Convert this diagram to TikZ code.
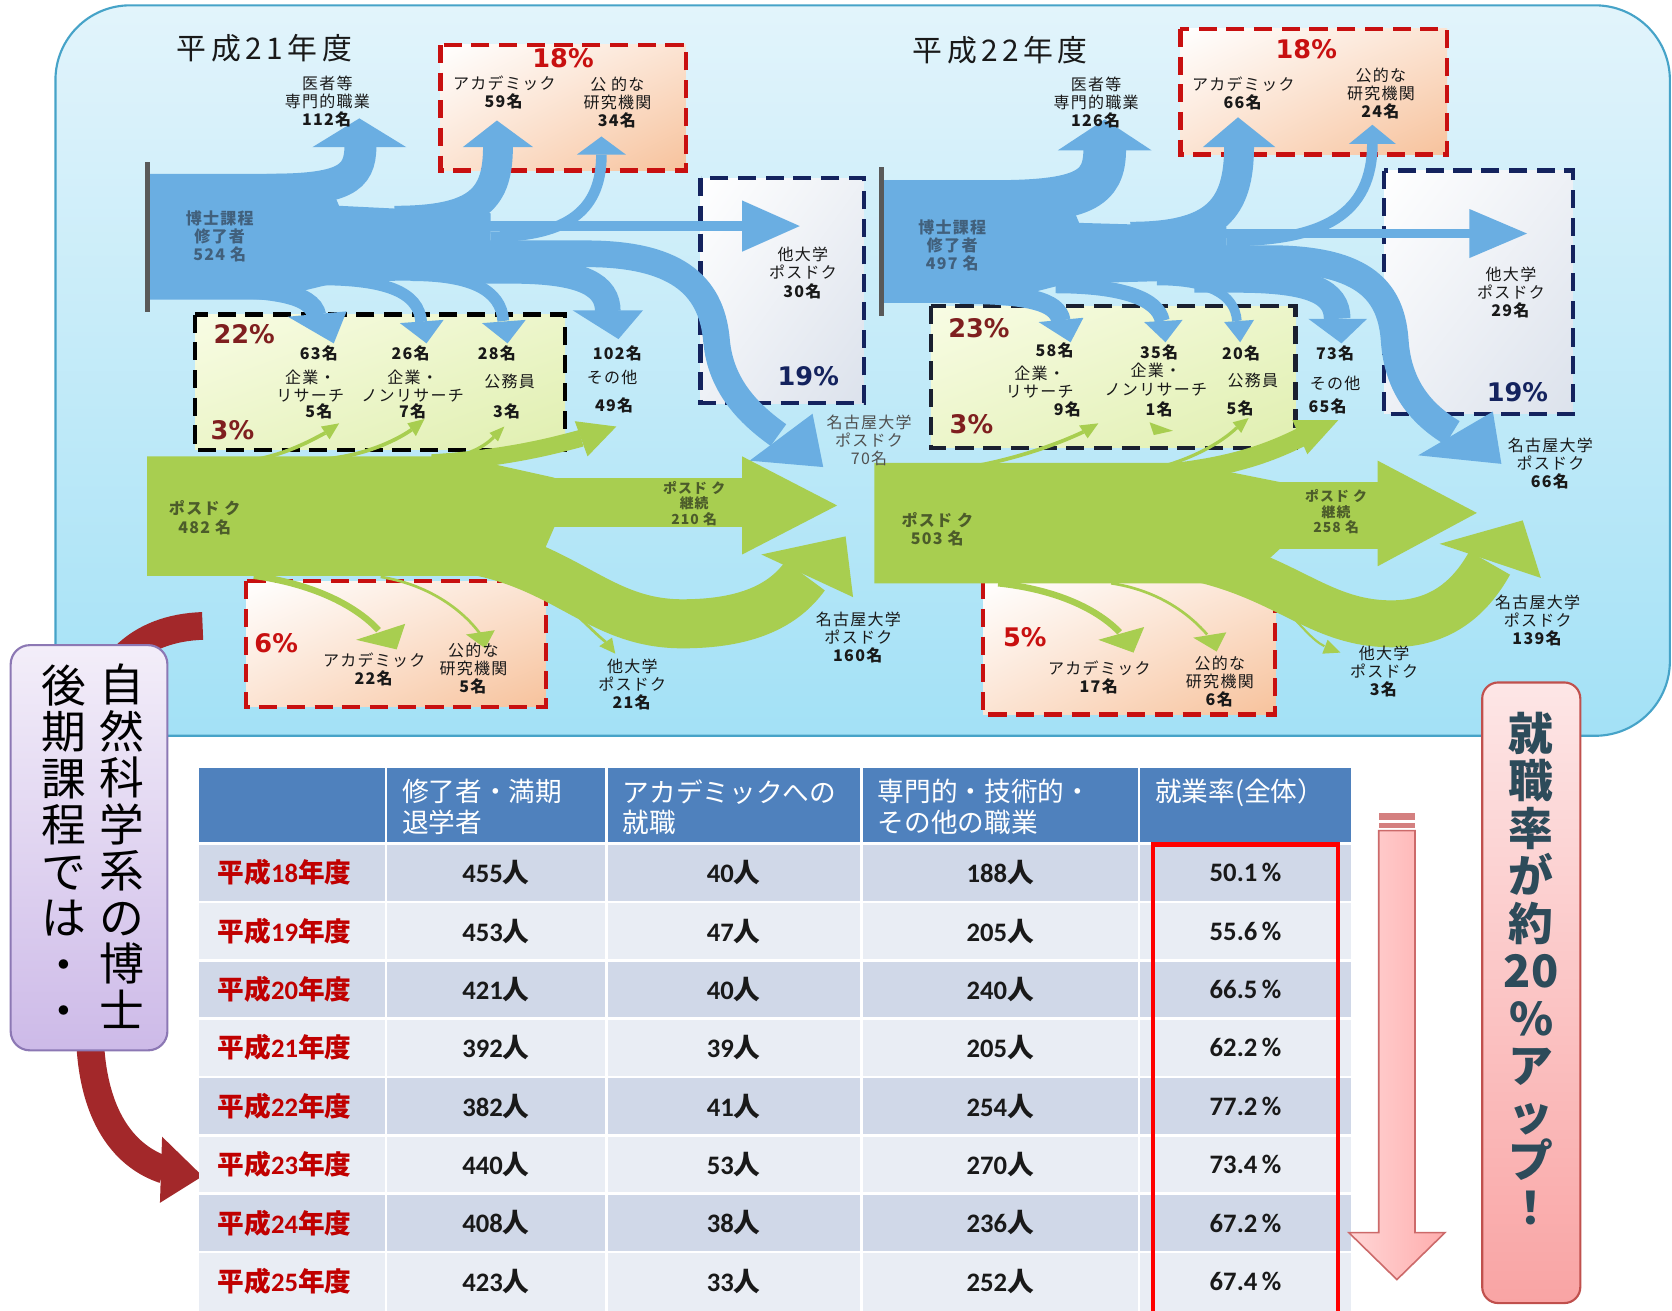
\documentclass[tikz,border=0pt]{standalone}
\usepackage{fontspec}
\setmainfont{Noto Sans CJK JP}
\newfontfamily\jpl[LetterSpace=8]{Noto Sans CJK JP}
\newfontfamily\jpt[LetterSpace=15]{Noto Sans CJK JP}
\newfontfamily\dv{DejaVu Sans}
\newfontfamily\cb{Carlito}
\usetikzlibrary{shadings}
\definecolor{fb}{HTML}{6AAEE2}
\definecolor{fg}{HTML}{A8CE50}
\definecolor{pnltop}{HTML}{E2F4FB}
\definecolor{pnlbot}{HTML}{A3E1F6}
\definecolor{pnlbd}{HTML}{46A3C8}
\definecolor{peach}{HTML}{F7C29C}
\definecolor{dred}{HTML}{C81010}
\definecolor{bred}{HTML}{7F1F1F}
\definecolor{navy}{HTML}{14235E}
\definecolor{knavy}{HTML}{1A2030}
\definecolor{gyl}{HTML}{F8FCE4}
\definecolor{gyd}{HTML}{E0EFB0}
\definecolor{bgd}{HTML}{DCE2EC}
\definecolor{hdr}{HTML}{4F81BD}
\definecolor{rowa}{HTML}{D0D8E8}
\definecolor{rowb}{HTML}{E9EDF4}
\definecolor{txtblue}{HTML}{41607C}
\definecolor{txtgreen}{HTML}{4C5C2A}
\definecolor{txtgray}{HTML}{505050}
\definecolor{arrred}{HTML}{A3282A}
\definecolor{vtext}{HTML}{2D4B5A}
\definecolor{pptop}{HTML}{F3EEF9}
\definecolor{ppbot}{HTML}{CDBAE8}
\definecolor{ppbd}{HTML}{8C78B4}
\definecolor{pktop}{HTML}{FDE6E6}
\definecolor{pkbot}{HTML}{F9A4A4}
\definecolor{pkbd}{HTML}{C0504D}
\definecolor{arl}{HTML}{FFD6D6}
\definecolor{ard}{HTML}{FFADAD}
\definecolor{arbd}{HTML}{CC6A6A}
\definecolor{tred}{HTML}{C00000}
\tikzset{
  lb/.style={align=center, inner sep=0pt, text=black!90, font=\jpl\fontsize{15}{17}\selectfont},
  lbb/.style={inner sep=0pt, text=black!90, font=\jpl\bfseries\fontsize{15}{17}\selectfont},
  lbt/.style={align=center, inner sep=0pt, text=txtblue, font=\jpl\bfseries\fontsize{15}{17}\selectfont},
  lbg/.style={align=center, inner sep=0pt, text=txtgreen, font=\jpl\bfseries\fontsize{15}{17}\selectfont},
  lbgs/.style={align=center, inner sep=0pt, text=txtgreen, font=\jpl\bfseries\fontsize{13}{14.5}\selectfont},
  ttl/.style={inner sep=0pt, text=black!90, font=\jpt\fontsize{28}{28}\selectfont},
  pc/.style={inner sep=0pt, font=\dv\bfseries\fontsize{24}{24}\selectfont},
  rbox/.style={draw=dred, line width=4pt, dash pattern=on 17pt off 9pt, upper left=white, lower right=peach, upper right=peach!45!white, lower left=peach!45!white},
  kbox/.style={draw=black, line width=4pt, dash pattern=on 17pt off 9pt, upper left=gyl, lower right=gyd, upper right=gyl!50!gyd, lower left=gyl!50!gyd},
  nbox/.style={draw=navy, line width=4pt, dash pattern=on 17pt off 9pt, upper left=white, lower right=bgd, upper right=white!50!bgd, lower left=white!50!bgd},
  hdtxt/.style={text=white, anchor=west, align=left, inner sep=0pt, font=\fontsize{25}{29}\selectfont},
  rlab/.style={text=tred, inner sep=0pt, font=\bfseries\fontsize{25}{25}\selectfont},
  val/.style={text=black!90, inner sep=0pt, font=\bfseries\fontsize{25}{25}\selectfont},
  vt/.style={align=center, inner sep=0pt, text=black, font=\fontsize{42}{43.6}\selectfont},
  vp/.style={align=center, inner sep=0pt, text=vtext, font=\bfseries\fontsize{42}{44.5}\selectfont},
}
\begin{document}
\begin{tikzpicture}[x=1pt,y=-1pt]
\useasboundingbox (0,0) rectangle (1568,1229);
\fill[white] (0,0) rectangle (1568,1229);
% panel
\draw[draw=pnlbd, line width=2pt, top color=pnltop, bottom color=pnlbot, rounded corners=70pt] (52,5) rectangle (1566,690);

% ===== boxes left
\path[rbox] (413,42) rectangle (643,160);
\path[nbox] (657,167) rectangle (810,378);
\path[kbox] (183,295) rectangle (530,422);
\path[rbox] (231,545) rectangle (512,663);
% ===== boxes right
\path[rbox] (1107,27) rectangle (1357,145);
\path[nbox] (1298,160) rectangle (1475,388);
\path[kbox, draw=knavy] (873,287) rectangle (1215,420);
\path[rbox] (922,545) rectangle (1196,670);

% ===== left blue flows
\fill[fb] (140,163) -- (305,163) -- (318,193) -- (460,200) -- (460,262) -- (320,264) -- (250,281) -- (140,281) -- cycle;
\draw[fb, line width=30pt] (250,178) .. controls (322,178) and (338,168) .. (338,137);
\fill[fb] (293,138) -- (381,138) -- (337,111) -- cycle;
\draw[fb, line width=28pt] (370,207) .. controls (450,207) and (467,185) .. (467,137);
\fill[fb] (434,138) -- (500,138) -- (466,113) -- cycle;
\draw[fb, line width=10pt] (460,222) .. controls (535,222) and (564,195) .. (564,145);
\fill[fb] (541,145) -- (587,145) -- (564,128) -- cycle;
\draw[fb, line width=10pt] (450,212) -- (697,212);
\fill[fb] (696,188) -- (696,236) -- (750,212) -- cycle;
\draw[fb, line width=25pt] (440,238) -- (550,238) .. controls (640,238) and (668,272) .. (672,320) .. controls (676,362) and (702,388) .. (730,408);
\fill[fb] (703,432) -- (762,388) -- (772,438) -- cycle;
\draw[fb, line width=24pt] (430,254) -- (480,254) .. controls (548,254) and (570,268) .. (570,292);
\fill[fb] (537,291) -- (603,291) -- (580,318) -- cycle;
\draw[fb, line width=18pt] (190,270) .. controls (250,270) and (293,274) .. (297,296);
\fill[fb] (270,297) -- (325,292) -- (313,322) -- cycle;
\draw[fb, line width=11pt] (300,262) .. controls (362,262) and (393,274) .. (395,302);
\fill[fb] (375,303) -- (416,300) -- (400,322) -- cycle;
\draw[fb, line width=11pt] (385,258) .. controls (442,258) and (470,272) .. (472,301);
\fill[fb] (452,303) -- (493,300) -- (476,322) -- cycle;
\fill[black!65] (136,152) rectangle (141,293);

% ===== left green flows
\fill[fg] (138,428) -- (430,428) -- (520,448) -- (520,494) -- (500,540) -- (138,540) -- cycle;
\fill[fg] (510,448) rectangle (697,494);
\fill[fg] (696,428) -- (696,520) -- (785,474) -- cycle;
\draw[fg, line width=46pt] (450,517) .. controls (535,535) and (565,585) .. (640,585) .. controls (700,585) and (735,568) .. (755,540);
\fill[fg] (714,520) -- (800,560) -- (793,503) -- cycle;
\draw[fg, line width=16pt] (405,434) .. controls (470,430) and (512,420) .. (545,411);
\fill[fg] (539,395) -- (551,428) -- (578,400) -- cycle;
\draw[fg, line width=3.5pt] (240,431) .. controls (270,425) and (290,414) .. (305,406);
\fill[fg] (301,400) -- (309,412) -- (318,397) -- cycle;
\draw[fg, line width=3.5pt] (300,431) .. controls (340,428) and (370,414) .. (386,403);
\fill[fg] (382,397) -- (390,409) -- (398,393) -- cycle;
\draw[fg, line width=3pt] (410,431) .. controls (440,428) and (455,418) .. (463,410);
\fill[fg] (459,406) -- (467,414) -- (473,400) -- cycle;
\draw[fg, line width=6pt] (238,540) .. controls (290,547) and (332,566) .. (355,591);
\fill[fg] (334,600) -- (380,585) -- (372,609) -- cycle;
\draw[fg, line width=2.5pt] (357,541) .. controls (400,548) and (432,570) .. (450,594);
\fill[fg] (437,595) -- (464,591) -- (455,608) -- cycle;
\draw[fg, line width=2.5pt] (520,558) .. controls (545,580) and (558,594) .. (568,602);
\fill[fg] (562,606) -- (574,598) -- (577,613) -- cycle;

% ===== right blue flows
\fill[fb] (828,169) -- (995,169) -- (1012,209) -- (1150,213) -- (1150,262) -- (1000,266) -- (930,284) -- (828,284) -- cycle;
\draw[fb, line width=40pt] (930,189) .. controls (1015,189) and (1036,178) .. (1036,140);
\fill[fb] (992,141) -- (1080,141) -- (1036,112) -- cycle;
\draw[fb, line width=28pt] (1060,222) .. controls (1140,222) and (1162,196) .. (1162,137);
\fill[fb] (1128,138) -- (1196,138) -- (1161,110) -- cycle;
\draw[fb, line width=10pt] (1150,226) .. controls (1240,226) and (1287,202) .. (1287,134);
\fill[fb] (1265,135) -- (1309,135) -- (1287,117) -- cycle;
\draw[fb, line width=8pt] (1140,219) -- (1379,219);
\fill[fb] (1378,196) -- (1378,242) -- (1432,219) -- cycle;
\draw[fb, line width=26pt] (1120,243) -- (1190,243) .. controls (1282,243) and (1305,275) .. (1308,320) .. controls (1311,362) and (1332,388) .. (1362,406);
\fill[fb] (1330,427) -- (1400,386) -- (1408,435) -- cycle;
\draw[fb, line width=25pt] (1120,262) -- (1160,262) .. controls (1230,262) and (1254,274) .. (1254,299);
\fill[fb] (1227,299) -- (1282,299) -- (1258,322) -- cycle;
\draw[fb, line width=18pt] (900,276) .. controls (962,276) and (992,282) .. (995,301);
\fill[fb] (974,302) -- (1016,298) -- (1004,321) -- cycle;
\draw[fb, line width=14pt] (990,268) .. controls (1052,268) and (1086,280) .. (1090,301);
\fill[fb] (1073,302) -- (1109,300) -- (1093,321) -- cycle;
\draw[fb, line width=9pt] (1085,263) .. controls (1132,263) and (1158,275) .. (1160,301);
\fill[fb] (1148,302) -- (1176,300) -- (1163,321) -- cycle;
\fill[black!65] (824,157) rectangle (829,296);

% ===== right green flows
\fill[fg] (820,434) -- (1110,434) -- (1200,452) -- (1200,515) -- (1165,547) -- (820,547) -- cycle;
\fill[fg] (1190,452) rectangle (1293,515);
\fill[fg] (1292,432) -- (1292,531) -- (1385,481) -- cycle;
\draw[fg, line width=44pt] (1130,525) .. controls (1210,545) and (1240,585) .. (1305,585) .. controls (1350,585) and (1378,562) .. (1397,528);
\fill[fg] (1350,510) -- (1445,542) -- (1428,488) -- cycle;
\draw[fg, line width=18pt] (1080,445) .. controls (1150,440) and (1190,425) .. (1220,410);
\fill[fg] (1212,394) -- (1226,426) -- (1255,394) -- cycle;
\draw[fg, line width=3.5pt] (920,436) .. controls (960,428) and (995,415) .. (1016,405);
\fill[fg] (1012,399) -- (1020,411) -- (1030,397) -- cycle;
\fill[fg] (1078,396) -- (1082,408) -- (1100,404) -- cycle;
\draw[fg, line width=3pt] (1050,445) .. controls (1100,440) and (1140,420) .. (1160,401);
\fill[fg] (1156,396) -- (1164,406) -- (1171,392) -- cycle;
\draw[fg, line width=6pt] (936,547) .. controls (992,553) and (1030,572) .. (1050,593);
\fill[fg] (1030,600) -- (1073,588) -- (1063,612) -- cycle;
\draw[fg, line width=2.5pt] (1042,547) .. controls (1082,553) and (1112,572) .. (1132,595);
\fill[fg] (1119,598) -- (1150,593) -- (1141,611) -- cycle;
\draw[fg, line width=2pt] (1200,566) .. controls (1220,586) and (1230,600) .. (1242,606);
\fill[fg] (1245,600) -- (1240,613) -- (1257,612) -- cycle;

% ===== left texts
\node[ttl] (tA) at (248,45) {平成21年度};
\node[lb] (lA1) at (307,95) {医者等\\専門的職業\\\textbf{112名}};
\node[pc, text=dred] (lA2) at (528,55) {18\%};
\node[lb] (lA3) at (473,87) {アカデミック\\\textbf{59名}};
\node[lb] (lA4) at (579,96) {公\ 的な\\研究機関\\\textbf{34名}};
\node[lbt] (lA5) at (206,222) {博士課程\\修了者\\524 名};
\node[pc, text=bred] (lA6) at (229,313) {22\%};
\node[pc, text=bred] (lA7) at (218,403) {3\%};
\node[lbb] (lA8) at (299,331) {63名};
\node[lbb] (lA9) at (385,331) {26名};
\node[lbb] (lA10) at (466,331) {28名};
\node[lb] (lA11) at (291,362.5) {企業・\\リサーチ};
\node[lbb] (lA12) at (299,386) {5名};
\node[lb] (lA13) at (387,362.5) {企業・\\ノンリサーチ};
\node[lbb] (lA14) at (387,386) {7名};
\node[lb] (lA15) at (478,358) {公務員};
\node[lbb] (lA16) at (475,386) {3名};
\node[lbb] (lA17) at (579,331) {102名};
\node[lb] (lA18) at (574,354) {その他};
\node[lbb] (lA19) at (576,380) {49名};
\node[lb] (lA20) at (753,256) {他大学\\ポスドク\\\textbf{30名}};
\node[pc, text=navy] (lA21) at (758,353) {19\%};
\node[lb, text=txtgray] (lA22) at (815,413) {名古屋大学\\ポスドク\\70名};
\node[lbg] (lA23) at (192,485.5) {ポスド ク\\482 名};
\node[lbgs] (lA24) at (651,472) {ポスド ク\\継続\\210 名};
\node[lb] (lA25) at (805,598) {名古屋大学\\ポスドク\\\textbf{160名}};
\node[pc, text=dred] (lA26) at (259,603) {6\%};
\node[lb] (lA27) at (351,628) {アカデミック\\\textbf{22名}};
\node[lb] (lA28) at (444,627) {公的な\\研究機関\\\textbf{5名}};
\node[lb] (lA29) at (593,642) {他大学\\ポスドク\\\textbf{21名}};

% ===== right texts
\node[ttl] (tB) at (938,47) {平成22年度};
\node[lb] (lB1) at (1028,96) {医者等\\専門的職業\\\textbf{126名}};
\node[pc, text=dred] (lB2) at (1225,46) {18\%};
\node[lb] (lB3) at (1166,87.5) {アカデミック\\\textbf{66名}};
\node[lb] (lB4) at (1295,88) {公的な\\研究機関\\\textbf{24名}};
\node[lbt] (lB5) at (893,230) {博士課程\\修了者\\497 名};
\node[pc, text=bred] (lB6) at (918,308) {23\%};
\node[pc, text=bred] (lB7) at (911,398) {3\%};
\node[lbb] (lB8) at (989,329) {58名};
\node[lbb] (lB9) at (1087,330) {35名};
\node[lbb] (lB10) at (1164,331) {20名};
\node[lbb] (lB11) at (1252,331) {73名};
\node[lb] (lB12) at (975,358.5) {企業・\\リサーチ};
\node[lbb] (lB13) at (1001,384) {9名};
\node[lb] (lB14) at (1084,356) {企業・\\ノンリサーチ};
\node[lbb] (lB15) at (1087,384) {1名};
\node[lb] (lB16) at (1175,357) {公務員};
\node[lbb] (lB17) at (1163,383) {5名};
\node[lb] (lB18) at (1252,360) {その他};
\node[lbb] (lB19) at (1245,381) {65名};
\node[lb] (lB20) at (1417,274) {他大学\\ポスドク\\\textbf{29名}};
\node[pc, text=navy] (lB21) at (1423,368) {19\%};
\node[lb] (lB22) at (1454,435) {名古屋大学\\ポスドク\\\textbf{66名}};
\node[lbg] (lB23) at (879,496.5) {ポスド ク\\503 名};
\node[lbgs] (lB24) at (1253,480) {ポスド ク\\継続\\258 名};
\node[lb] (lB25) at (1442,582) {名古屋大学\\ポスドク\\\textbf{139名}};
\node[pc, text=dred] (lB26) at (961,598) {5\%};
\node[lb] (lB27) at (1031,635.5) {アカデミック\\\textbf{17名}};
\node[lb] (lB28) at (1144,639) {公的な\\研究機関\\\textbf{6名}};
\node[lb] (lB29) at (1298,630) {他大学\\ポスドク\\\textbf{3名}};

% ===== red curved arrow behind purple box
\draw[arrred, line width=26pt] (190,587) .. controls (130,589) and (88,625) .. (85,700) -- (85,985) .. controls (90,1050) and (118,1085) .. (154,1097);
\fill[arrred] (152,1066) -- (150,1128) -- (190,1103) -- cycle;

% ===== purple box
\draw[draw=ppbd, line width=2pt, top color=pptop, bottom color=ppbot, rounded corners=18pt] (10,605) rectangle (157,985);
\node[vt] (vr) at (114,793.6) {自\\然\\科\\学\\系\\の\\博\\士};
\node[vt] (vl) at (60,793.6) {後\\期\\課\\程\\で\\は\\・\\・};

% ===== pink box
\draw[draw=pkbd, line width=2pt, top color=pktop, bottom color=pkbot, rounded corners=15pt] (1390,640) rectangle (1482,1222);
\node[vp] (vk) at (1436,908.5) {就\\職\\率\\が\\約\\20\\\%\\ア\\ッ\\プ\\！};

% ===== table
\fill[hdr] (187,720) rectangle (1267,791);
\foreach \i in {0,2,4,6}
  \fill[rowa] (187,{791+54.75*\i}) rectangle (1267,{791+54.75*(\i+1)});
\foreach \i in {1,3,5,7}
  \fill[rowb] (187,{791+54.75*\i}) rectangle (1267,{791+54.75*(\i+1)});
\foreach \x in {362,569,808,1068}
  \draw[white, line width=2.5pt] (\x,720) -- (\x,1229);
\foreach \i in {0,...,7}
  \draw[white, line width=2.5pt] (187,{791+54.75*\i}) -- (1267,{791+54.75*\i});
\node[hdtxt] (h1) at (377,757) {修了者・満期\\退学者};
\node[hdtxt] (h2) at (584,757) {アカデミックへの\\就職};
\node[hdtxt] (h3) at (823,757) {専門的・技術的・\\その他の職業};
\node[hdtxt] (h4) at (1083,743) {就業率(全体）};
\foreach \yr/\va/\vb/\vc/\vd [count=\i from 0] in {18/455/40/188/50.1,19/453/47/205/55.6,20/421/40/240/66.5,21/392/39/205/62.2,22/382/41/254/77.2,23/440/53/270/73.4,24/408/38/236/67.2,25/423/33/252/67.4}{
  \pgfmathsetmacro\yy{818.4+54.75*\i}
  \node[rlab] (yr\i) at (267,\yy) {平成{\cb\yr}年度};
  \node[val] (ca\i) at (465,\yy) {{\cb\va}人};
  \node[val] (cb\i) at (688,\yy) {{\cb\vb}人};
  \node[val] (cc\i) at (938,\yy) {{\cb\vc}人};
  \node[val] (cd\i) at (1168,\yy) {{\cb\vd\,\%}};
}
\draw[red, line width=4pt] (1081,792) rectangle (1255,1233);

% ===== pink down arrow
\draw[draw=arbd, line width=1.5pt, left color=arl, right color=ard] (1293,779) -- (1327,779) -- (1327,1156) -- (1355,1156) -- (1310,1200) -- (1265,1156) -- (1293,1156) -- cycle;
\fill[arbd!85] (1293,762) rectangle (1327,769);
\fill[arbd!85] (1293,771.5) rectangle (1327,776.5);
\end{tikzpicture}
\end{document}
